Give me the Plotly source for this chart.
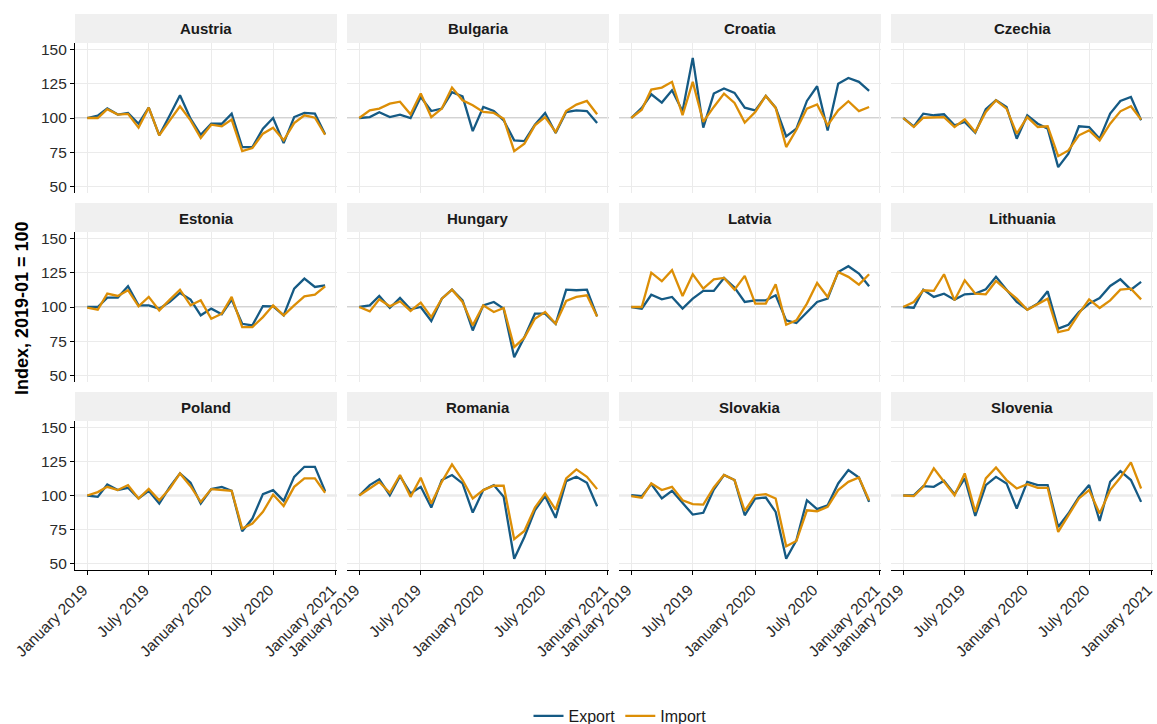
import pandas as pd
import plotly.graph_objects as go

# Monthly trade index (2019-01 = 100) for twelve EU economies
months = pd.date_range("2019-01-01", "2020-12-01", freq="MS")

countries = ["Austria", "Bulgaria", "Croatia", "Czechia",
             "Estonia", "Hungary", "Latvia", "Lithuania",
             "Poland", "Romania", "Slovakia", "Slovenia"]

austria_export = [100, 101.7, 107, 102.5, 103.7, 95.8, 107.6, 87.3, 102, 116.7, 99.5, 87.7,
                  95.8, 95.8, 103.2, 78.7, 78.7, 92.2, 100, 81.6, 100.7, 103.7, 103.2, 88]
austria_import = [100, 100, 106.5, 102.5, 103, 92.9, 107.6, 87.3, 98.3, 108.6, 98.3, 85.3,
                  95.1, 93.9, 98.8, 75.7, 78, 88.5, 92.9, 83.6, 96.3, 102, 100.2, 87.7]

bulgaria_export = [100, 100.7, 104.2, 100.7, 102.5, 100, 115.4, 105.1, 106.9, 119, 115.9, 90.4,
                   108.1, 105.1, 98.3, 83.6, 83.1, 95.1, 103.7, 89, 104.4, 105.6, 105.1, 96.3]
bulgaria_import = [100, 105.6, 106.9, 110.5, 112, 102.7, 117.9, 100.7, 106.9, 122.3, 113, 109.3,
                   104.4, 103.7, 99.5, 75.7, 81.1, 94.6, 100.7, 89.7, 105.1, 109.8, 112.5, 102.7]

croatia_export = [100, 107.4, 117.4, 111.3, 120.3, 104.9, 144.1, 92.9, 117.9, 121.6, 118.4, 107.6,
                  105.6, 116.2, 107.6, 86.5, 92.2, 112.5, 123.3, 90.9, 125.2, 129.4, 126.5, 119.9]
croatia_import = [100, 106.1, 120.8, 122.3, 126.5, 102, 126.5, 97.1, 108.1, 117.9, 111, 96.6,
                  104.4, 116.2, 107.4, 78.7, 91.4, 106.9, 110, 94.6, 105.6, 112.3, 105.1, 108.1]

czechia_export = [100, 93.9, 103.2, 102, 102.7, 94.6, 97.1, 89.2, 106.4, 113, 108.1, 84.8,
                  102, 95.8, 92.2, 64, 73.8, 93.9, 93.4, 84.8, 103.2, 112.5, 115.4, 98.3]
czechia_import = [100, 93.4, 100.2, 100.7, 100.7, 93.4, 99, 89.7, 104.4, 113, 106.9, 88.5,
                  100.7, 93.4, 93.9, 72, 76.2, 87.3, 90.9, 83.6, 95.8, 104.9, 108.6, 98.8]

estonia_export = [100, 100, 106.9, 106.9, 115.2, 101.2, 101.2, 98.8, 103.7, 110.3, 105.4, 93.9,
                  98.8, 94.6, 105.4, 87.7, 86.5, 100.7, 100.5, 93.9, 113.5, 120.8, 114.7, 115.9]
estonia_import = [99.5, 98, 109.8, 108.1, 112.3, 100.5, 107.4, 97.5, 105.4, 112.7, 101.2, 104.9,
                  91.4, 95.1, 107.4, 85.3, 85.3, 92.6, 101.2, 93.9, 101.2, 107.8, 109, 115.2]

hungary_export = [100, 101.2, 108.1, 99.3, 106.6, 98.3, 100, 89.7, 106.1, 112.7, 104.9, 82.8,
                  101.2, 103.7, 98.8, 63.2, 77.9, 95.1, 95.1, 87.7, 112.7, 112.3, 112.7, 93.1]
hungary_import = [100, 96.8, 105.6, 100.5, 104.2, 97.1, 103.2, 92.6, 106.1, 112.7, 103.7, 86.5,
                  101.2, 96.3, 99.3, 70.6, 77.5, 91.4, 96.3, 87.7, 104.4, 107.4, 108.6, 93.1]

latvia_export = [100, 98.8, 109, 105.6, 107.4, 98.8, 106.1, 111.8, 111.8, 121.3, 114.2, 103.7,
                 104.9, 104.9, 108.6, 90.2, 88.2, 96.3, 103.7, 106.1, 125.7, 129.9, 124.5, 115.2]
latvia_import = [100, 100, 125.2, 118.9, 127, 108.1, 124, 113.5, 120.3, 121.3, 112.7, 122.8,
                 102.5, 102.5, 116.7, 87, 90.2, 102.5, 117.6, 107.4, 125.7, 122.1, 116.4, 124]

lithuania_export = [100, 99.5, 112.7, 107.4, 109.8, 105.4, 109.3, 109.8, 113, 122.1, 112.7, 103.7,
                    98, 102.5, 111.5, 84.1, 87, 96.3, 102.5, 106.6, 115.4, 120.3, 112.7, 118.4]
lithuania_import = [100, 103.7, 112.3, 111.8, 124, 104.9, 119.6, 109.8, 109.3, 119.1, 112.3, 106.1,
                    98, 102.5, 106.1, 81.6, 83.3, 95.1, 105.6, 99.3, 104.9, 112.7, 113.5, 105.6]

poland_export = [100, 99, 108.1, 104, 105.7, 97.8, 103.5, 94.1, 106.4, 116.3, 109.4, 94.1,
                 104.7, 106.4, 103.5, 73.6, 83, 101, 104, 96, 113.8, 121.2, 121.2, 103.2]
poland_import = [100, 102.5, 106.4, 104, 107.7, 97.8, 104.9, 96.5, 105.2, 116.3, 106.9, 95.3,
                 104.7, 104, 103.5, 75.6, 79.3, 87.9, 100.7, 92.3, 106.4, 112.6, 112.6, 102]

romania_export = [100, 107.7, 111.9, 100.2, 114.3, 101.5, 106.4, 91.1, 111.4, 115.1, 108.9, 87.4,
                  104, 107.7, 99, 53.3, 69.4, 89.1, 99.5, 83.5, 110.6, 113.8, 109.4, 92.1]
romania_import = [100, 105.2, 110, 102, 115.1, 99, 113.1, 94.1, 110.1, 123, 111.4, 97.8,
                  104, 107.2, 107.2, 67.7, 73.8, 91.1, 101.5, 89.6, 112.6, 119.3, 113.8, 104.7]

slovakia_export = [100.2, 99.5, 108.4, 97.8, 103.5, 94.8, 85.9, 87.2, 104.4, 115.1, 111.4, 85.4,
                   97.8, 98.5, 87.9, 53.3, 66.9, 96.5, 89.9, 92.8, 108.9, 118.8, 113.3, 95.3]
slovakia_import = [99.5, 98.3, 108.9, 104, 106.4, 96.5, 93.6, 93.3, 105.9, 115.1, 111.4, 88.6,
                   100.2, 101, 97.8, 62.5, 66.4, 89.1, 88.4, 91.6, 104, 110.1, 113.3, 96.5]

slovenia_export = [100, 100.2, 106.9, 106.4, 110.9, 101, 112.6, 84.9, 107.7, 113.8, 108.9, 90.4,
                   110.1, 107.7, 107.7, 76.8, 86.7, 99, 107.7, 81.2, 110.1, 118, 111.4, 95.3]
slovenia_import = [100, 99.5, 106.4, 120, 110.1, 100.2, 116.3, 87.9, 112.6, 120.7, 111.4, 105.2,
                   108.4, 105.7, 105.7, 73.1, 85.4, 97.8, 104, 86.7, 104, 113.3, 124.4, 105.2]

export_series = [austria_export, bulgaria_export, croatia_export, czechia_export,
                 estonia_export, hungary_export, latvia_export, lithuania_export,
                 poland_export, romania_export, slovakia_export, slovenia_export]
import_series = [austria_import, bulgaria_import, croatia_import, czechia_import,
                 estonia_import, hungary_import, latvia_import, lithuania_import,
                 poland_import, romania_import, slovakia_import, slovenia_import]

y_ticks = [50, 75, 100, 125, 150]
x_tick_dates = ["2019-01-01", "2019-07-01", "2020-01-01", "2020-07-01", "2021-01-01"]
x_tick_labels = ["January 2019", "July 2019", "January 2020", "July 2020", "January 2021"]

EXPORT_COLOR = "#155a84"
IMPORT_COLOR = "#dc8e06"
W, H = 1157, 724
FONT = "Liberation Sans, Arial, sans-serif"
TICK_FONT = dict(size=15.5, color="#2b2b2b", family=FONT)

# panel geometry in pixels
col_px = [(75, 337), (347, 609), (619, 881), (891, 1153)]
row_px = [(43, 193), (232, 382), (421, 570)]  # plotting area (top, bottom)
strip_h = 29


def px_x(v):
    return v / W


def px_y(v):
    return 1 - v / H


fig = go.Figure()
layout = {}
shapes = []
annotations = []

for k, name in enumerate(countries):
    r, c = divmod(k, 4)
    idx = k + 1
    xa = "x" if idx == 1 else f"x{idx}"
    ya = "y" if idx == 1 else f"y{idx}"
    x0, x1 = col_px[c]
    top, bot = row_px[r]

    fig.add_trace(go.Scatter(x=months, y=export_series[k], mode="lines", name="Export",
                             line=dict(color=EXPORT_COLOR, width=2.3),
                             xaxis=xa, yaxis=ya, legendgroup="Export",
                             showlegend=(k == 0)))
    fig.add_trace(go.Scatter(x=months, y=import_series[k], mode="lines", name="Import",
                             line=dict(color=IMPORT_COLOR, width=2.3),
                             xaxis=xa, yaxis=ya, legendgroup="Import",
                             showlegend=(k == 0)))

    left = c == 0
    bottom = r == 2
    layout["xaxis" if idx == 1 else f"xaxis{idx}"] = dict(
        domain=[px_x(x0), px_x(x1)], anchor=ya, type="date",
        range=["2018-11-26", "2021-01-05"],
        tickvals=x_tick_dates, ticktext=x_tick_labels,
        showticklabels=bottom, tickangle=-45, automargin=False,
        ticklabelshift=-4,
        ticklabeloverflow="allow", tickfont=TICK_FONT,
        showgrid=True, gridcolor="#ebebeb", gridwidth=1,
        showline=bottom, linecolor="#000000", linewidth=1.2,
        ticks="outside" if bottom else "", ticklen=4, tickcolor="#000000",
        zeroline=False, fixedrange=True,
    )
    layout["yaxis" if idx == 1 else f"yaxis{idx}"] = dict(
        domain=[px_y(bot), px_y(top)], anchor=xa,
        range=[45, 155], tickvals=y_ticks, automargin=False,
        showticklabels=left, ticklabeloverflow="allow", tickfont=TICK_FONT,
        showgrid=True, gridcolor="#ebebeb", gridwidth=1,
        showline=left, linecolor="#000000", linewidth=1.2,
        ticks="outside" if left else "", ticklen=4, tickcolor="#000000",
        zeroline=False, fixedrange=True,
    )

    # reference line at the base index
    shapes.append(dict(type="line", xref=f"{xa} domain", yref=ya,
                       x0=0, x1=1, y0=100, y1=100, layer="below",
                       line=dict(color="#c4c4c4", width=1.3)))
    # facet strip
    shapes.append(dict(type="rect", xref="paper", yref="paper",
                       x0=px_x(x0), x1=px_x(x1),
                       y0=px_y(top), y1=px_y(top - strip_h),
                       fillcolor="#f0f0f0", line=dict(width=0), layer="below"))
    annotations.append(dict(text=f"<b>{name}</b>", xref="paper", yref="paper",
                            x=px_x((x0 + x1) / 2), y=px_y(top - strip_h / 2 + 0.5),
                            xanchor="center", yanchor="middle", showarrow=False,
                            font=dict(size=15, color="#1a1a1a", family=FONT)))

annotations.append(dict(text="<b>Index, 2019-01 = 100</b>", xref="paper", yref="paper",
                        x=px_x(22), y=px_y(308), textangle=-90,
                        xanchor="center", yanchor="middle", showarrow=False,
                        font=dict(size=18, color="#000000", family=FONT)))

fig.update_layout(
    **layout,
    width=W, height=H,
    margin=dict(l=0, r=0, t=0, b=0, autoexpand=False),
    paper_bgcolor="#ffffff", plot_bgcolor="#ffffff",
    font=dict(family=FONT, color="#333333"),
    shapes=shapes, annotations=annotations,
    legend=dict(orientation="h", x=px_x(620), y=px_y(716),
                xanchor="center", yanchor="middle",
                font=dict(size=16, color="#1a1a1a", family=FONT),
                bgcolor="rgba(0,0,0,0)", itemwidth=30),
    showlegend=True,
)

fig.write_html("out.html")
